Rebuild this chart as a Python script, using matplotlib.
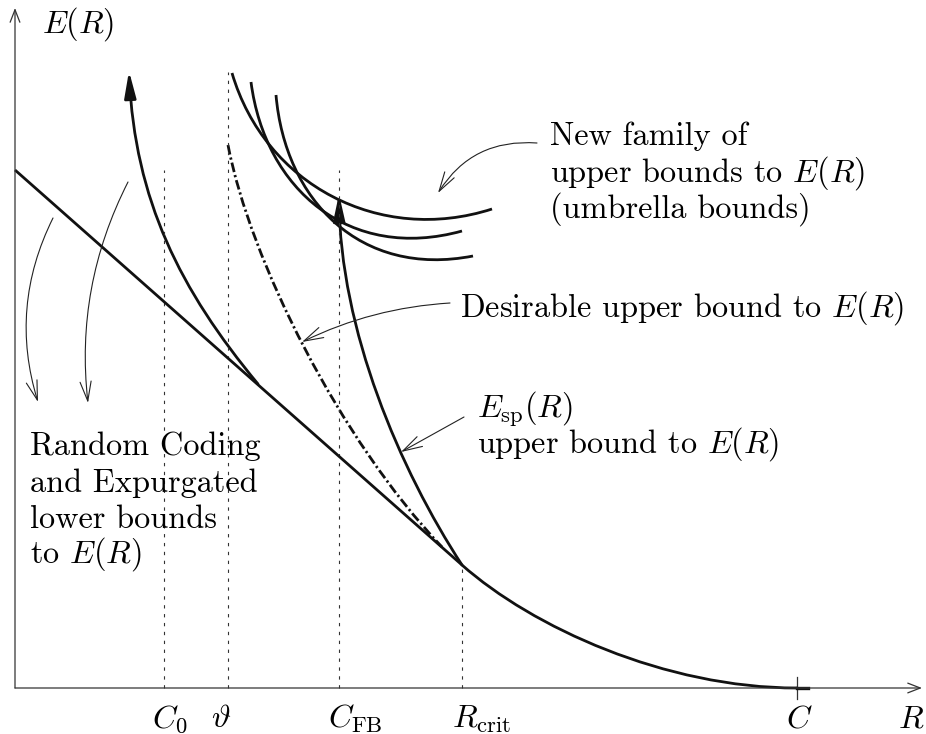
import numpy as np
import matplotlib
matplotlib.use("Agg")
import matplotlib.pyplot as plt
from matplotlib.path import Path
from matplotlib.patches import PathPatch, FancyArrowPatch

plt.rcParams['font.family'] = ['cmr10', 'DejaVu Serif']
plt.rcParams['mathtext.fontset'] = 'cm'
plt.rcParams['axes.formatter.use_mathtext'] = True

# schematic coordinates: origin at (R=0, E=0)
# rate markers on the R axis
tick_names = ['$C_0$', r'$\vartheta$', r'$C_{\rm FB}$', r'$R_{\rm crit}$', '$C$']
tick_r = [149, 213, 324, 447, 782]
tick_label_x = [137, 196, 313, 437, 771]
dotted_top = [518, 616, 518, 123]      # heights of the dotted guides (C0, theta, CFB, Rcrit)

# random coding / expurgated lower bound: straight part then curved part
lower_line_r = [0, 447]
lower_line_e = [518, 123]
lower_curve = [(447, 123), (517, 61), (650, 0), (782, 0)]
lower_tail_r = [782, 793]

# sphere packing bound (arrow up to C_FB)
esp_curve = [(447, 123), (385, 218), (325, 358), (324, 494)]
# left arrow curve
left_curve = [(243, 304), (165, 398), (120, 488), (114, 617)]
# desirable upper bound (dash-dot)
desirable_curve = [(213, 543), (235, 428), (325, 248), (427, 141)]
# umbrella bounds
umbrella_a = [(217, 615), (250, 503), (365, 443), (477, 479)]
umbrella_b = [(236, 606), (250, 498), (335, 426), (447, 457)]
umbrella_c = [(261, 593), (270, 488), (345, 410), (458, 432)]

# annotation arrows: (start, end, rad)
note_arrows = [
    ((522, 545), (423, 495), 0.3),
    ((435, 385), (287, 346), 0.1),
    ((449, 271), (386, 236), 0.0),
    ((38, 470), (23, 286), 0.2),
    ((113, 506), (73, 285), 0.15),
]

# text blocks: lines, left x, baselines
new_family_lines = ['New family of', 'upper bounds to $E(R)$', '(umbrella bounds)']
new_family_y = [543, 506, 470]
desirable_lines = ['Desirable upper bound to $E(R)$']
desirable_y = [371]
esp_lines = [r'$E_{\rm sp}(R)$', 'upper bound to $E(R)$']
esp_y = [271, 235]
lower_lines = ['Random Coding', 'and Expurgated', 'lower bounds', 'to $E(R)$']
lower_y = [233, 196, 160, 125]

LW = 2.0
DARK = '#111111'
FS = 23.3


def bezier(pts):
    return Path(pts, [Path.MOVETO, Path.CURVE4, Path.CURVE4, Path.CURVE4])


fig = plt.figure(figsize=(9.26, 7.34), dpi=100)
ax = fig.add_axes([0, 0, 1, 1])
ax.set_xlim(-15, 911)
ax.set_ylim(-46, 688)
ax.axis('off')

# axes with open arrowheads
ax.annotate('', xy=(907, 0), xytext=(0, 0),
            arrowprops=dict(arrowstyle='->,head_length=0.9,head_width=0.35',
                            lw=0.9, color='#333333', shrinkA=0, shrinkB=0))
ax.annotate('', xy=(0, 680), xytext=(0, 0),
            arrowprops=dict(arrowstyle='->,head_length=0.9,head_width=0.35',
                            lw=0.9, color='#333333', shrinkA=0, shrinkB=0))

# dotted guides
for r, top in zip(tick_r[:4], dotted_top):
    ax.plot([r, r], [0, top], color='#333333', lw=0.8, linestyle=(0, (3, 5)))
ax.plot([tick_r[4], tick_r[4]], [-11, 11], color='#333333', lw=0.9)

# lower bounds
ax.plot(lower_line_r, lower_line_e, color=DARK, lw=LW, solid_capstyle='butt')
ax.add_patch(PathPatch(bezier(lower_curve), fc='none', ec=DARK, lw=LW))
ax.plot(lower_tail_r, [0, 0], color=DARK, lw=LW + 0.4)

# desirable bound
ax.add_patch(PathPatch(bezier(desirable_curve), fc='none', ec=DARK, lw=LW,
                       linestyle=(0, (3.5, 1.1, 0.8, 1.1))))

# umbrella bounds
for pts in [umbrella_a, umbrella_b, umbrella_c]:
    ax.add_patch(PathPatch(bezier(pts), fc='none', ec=DARK, lw=LW))

# curves with filled arrowheads
for pts in [esp_curve, left_curve]:
    ax.add_patch(FancyArrowPatch(path=bezier(pts),
                                 arrowstyle='-|>,head_length=1.6,head_width=0.35',
                                 mutation_scale=10, lw=LW, color=DARK))

# thin annotation arrows
for start, end, rad in note_arrows:
    ax.annotate('', xy=end, xytext=start,
                arrowprops=dict(arrowstyle='->,head_length=1.4,head_width=0.4',
                                mutation_scale=10, lw=0.8, color='#222222',
                                connectionstyle=f'arc3,rad={rad}',
                                shrinkA=0, shrinkB=0))

# text blocks
for lines, ys, x in [(new_family_lines, new_family_y, 535),
                     (desirable_lines, desirable_y, 445),
                     (esp_lines, esp_y, 462),
                     (lower_lines, lower_y, 15)]:
    for line, y in zip(lines, ys):
        ax.text(x, y, line, fontsize=FS, ha='left', va='baseline')

ax.text(27, 655, '$E(R)$', fontsize=FS, ha='left', va='baseline')
ax.text(883, -39, '$R$', fontsize=FS, ha='left', va='baseline')
for name, x in zip(tick_names, tick_label_x):
    ax.text(x, -39, name, fontsize=FS, ha='left', va='baseline')

fig.savefig('out.png', dpi=100)
